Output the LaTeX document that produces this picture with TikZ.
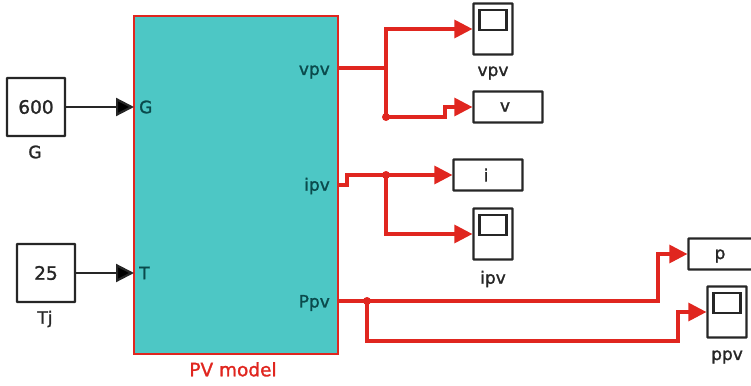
\documentclass[tikz,border=0pt]{standalone}
\usepackage{fontspec}
\setmainfont{DejaVu Sans}[FakeBold=1.4]
\usepackage{xcolor}
\definecolor{pvfill}{HTML}{4DC7C5}
\definecolor{pvtext}{HTML}{0A4A4C}
\definecolor{wirered}{HTML}{E0261F}
\definecolor{blockgray}{HTML}{262626}
\usepackage{tikz}
\usetikzlibrary{arrows.meta,positioning,calc}
\tikzset{
  blocktext/.style={font=\fontsize{17}{19}\selectfont, text=blockgray, inner sep=0pt},
  porttext/.style={font=\fontsize{17}{19}\selectfont, text=pvtext, inner sep=0pt},
  constblock/.style={draw=blockgray, line width=2.2pt, fill=white, minimum width=58pt, minimum height=58pt, inner sep=0pt, rounded corners=0.5pt, font=\fontsize{18.5}{20}\selectfont, text=blockgray},
  dispblock/.style={draw=blockgray, line width=2.2pt, fill=white, minimum width=69pt, minimum height=31pt, inner sep=0pt, rounded corners=0.5pt},
  scopeblock/.style={draw=blockgray, line width=2.2pt, fill=white, minimum width=39pt, minimum height=51pt, inner sep=0pt, rounded corners=0.5pt},
  scopescreen/.style={draw=blockgray, line width=2.2pt, minimum width=27pt, minimum height=20pt, inner sep=0pt},
  redwire/.style={draw=wirered, line width=3.1pt},
  blackwire/.style={draw=blockgray, line width=2.2pt},
  redtip/.style={-{Triangle[length=18pt,width=18pt,fill=wirered]}},
  blacktip/.style={-{Triangle[length=18pt,width=18pt,fill=black]}},
  branchdot/.style={circle, fill=wirered, minimum size=8pt, inner sep=0pt}
}
\begin{document}
\begin{tikzpicture}[x=1pt, y=-1pt]
\useasboundingbox (0,0) rectangle (751,385);
% model block
\node[draw=wirered, line width=2.8pt, fill=pvfill, minimum width=204pt, minimum height=338pt, inner sep=0pt] (pv) at (236,185) {};
\node[anchor=north, font=\fontsize{18.5}{20}\selectfont, text=wirered, inner sep=0pt] (pvlabel) at (233,362) {PV model};
\node[porttext, anchor=west] (portg) at (139,107) {G};
\node[porttext, anchor=west] (portt) at (139,273) {T};
\node[porttext, anchor=east] (portvpv) at (330,72) {vpv};
\node[porttext, anchor=east] (portipv) at (330,186) {ipv};
\node[porttext, anchor=east] (portppv) at (330,303) {Ppv};
\coordinate (ing) at (134,107);
\coordinate (int) at (134,273);
\coordinate (outvpv) at (338,68);
\coordinate (outipv) at (338,185);
\coordinate (outppv) at (338,301);
% sources
\node[constblock] (constg) at (36,107) {600};
\node[blocktext] (labelg) at (35,152) {G};
\node[constblock] (consttj) at (46,273) {25};
\node[blocktext] (labeltj) at (45,319) {Tj};
% displays
\node[dispblock] (dispv) at (508,107) {};
\node[blocktext] (textv) at (505,107) {v};
\node[dispblock] (dispi) at (488,175) {};
\node[blocktext] (texti) at (486,175) {i};
\node[dispblock] (dispp) at (723,254) {};
\node[blocktext] (textp) at (720,256) {p};
% scopes
\foreach \name/\x/\y/\ly in {vpv/493/29/73, ipv/493/234/279, ppv/727/312/357}{
  \node[scopeblock] (scope\name) at (\x,\y) {};
  \node[scopescreen] (screen\name) at (\x,\y-9) {};
  \node[blocktext] (label\name) at (\x,\ly) {\name};
}
% branch points
\node[branchdot] (dotvpv) at (386,117) {};
\node[branchdot] (dotipv) at (386,175) {};
\node[branchdot] (dotppv) at (367,301) {};
\coordinate (splitvpv) at (386,68);
% black wires
\draw[blackwire, blacktip] (constg.east) -- (ing);
\draw[blackwire, blacktip] (consttj.east) -- (int);
% red wires
\draw[redwire] (outvpv) -- (splitvpv);
\draw[redwire, redtip] (dotvpv.center) -- (splitvpv |- scopevpv.west) -- (scopevpv.west);
\draw[redwire, redtip] (dotvpv.center) -- (445,117) -- (445,107) -- (dispv.west);
\draw[redwire, redtip] (outipv) -- (347,185) -- (347,175) -- (dispi.west);
\draw[redwire, redtip] (dotipv.center) -- (386,234) -- (scopeipv.west);
\draw[redwire, redtip] (outppv) -- (658,301) -- (658,254) -- (dispp.west);
\draw[redwire, redtip] (dotppv.center) -- (367,341) -- (678,341) -- (678,312) -- (scopeppv.west);
\end{tikzpicture}
\end{document}
